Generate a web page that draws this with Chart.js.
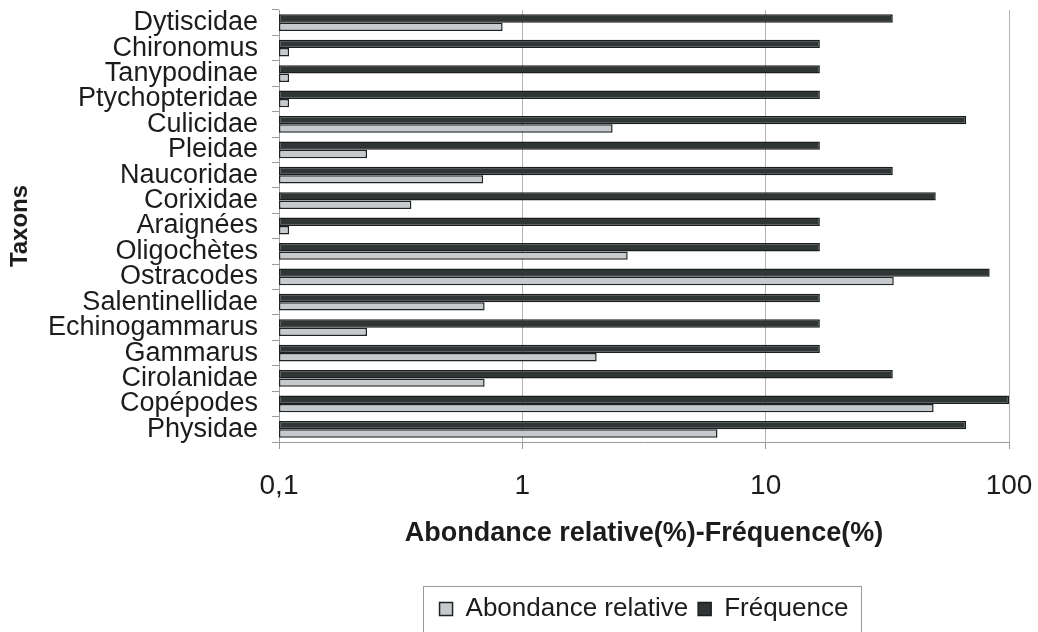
<!DOCTYPE html>
<html>
<head>
<meta charset="utf-8">
<script src="https://cdn.jsdelivr.net/npm/chart.js@4/dist/chart.umd.min.js"></script>
<style>
  html, body { margin: 0; padding: 0; background: #ffffff; }
  #wrap { width: 1038px; height: 632px; }
</style>
</head>
<body>
<div id="wrap"><canvas id="c" width="1038" height="632"></canvas></div>
<script>
// Taxa, listed top to bottom
const taxons = [
  'Dytiscidae', 'Chironomus', 'Tanypodinae', 'Ptychopteridae', 'Culicidae',
  'Pleidae', 'Naucoridae', 'Corixidae', 'Araignées', 'Oligochètes',
  'Ostracodes', 'Salentinellidae', 'Echinogammarus', 'Gammarus',
  'Cirolanidae', 'Copépodes', 'Physidae'
];

// Relative abundance (%)
const abondance = [
  0.83, 0.11, 0.11, 0.11, 2.35,
  0.23, 0.69, 0.35, 0.11, 2.71,
  33.6, 0.70, 0.23, 2.02,
  0.70, 49, 6.34
];

// Occurrence frequency (%)
const frequence = [
  33.3, 16.7, 16.7, 16.7, 66.7,
  16.7, 33.3, 50, 16.7, 16.7,
  83.3, 16.7, 16.7, 16.7,
  33.3, 100, 66.7
];

// Decade ticks of the logarithmic axis
const xTicks = [0.1, 1, 10, 100];

const FONT = "'Liberation Sans', Arial, Helvetica, sans-serif";
const INK = '#1c1c1c';

// Frame drawn around the legend entries
const legendFrame = {
  id: 'legendFrame',
  afterDraw(chart) {
    const lg = chart.legend;
    if (!lg || !lg.legendHitBoxes || !lg.legendHitBoxes.length) return;
    const hb = lg.legendHitBoxes;
    const l = Math.min(...hb.map(b => b.left)) - 17;
    const r = Math.max(...hb.map(b => b.left + b.width)) + 12;
    const t = lg.top;
    const ctx = chart.ctx;
    ctx.save();
    ctx.strokeStyle = '#9a9a9a';
    ctx.lineWidth = 1;
    ctx.strokeRect(Math.round(l) + 0.5, Math.round(t) + 0.5, Math.round(r - l), chart.height - t + 4);
    ctx.restore();
  }
};

new Chart(document.getElementById('c'), {
  type: 'bar',
  data: {
    labels: taxons,
    datasets: [
      {
        label: 'Fréquence',
        data: frequence,
        backgroundColor: '#303636',
        borderColor: '#1b1e1e',
        borderWidth: 1.5,
        borderSkipped: false
      },
      {
        label: 'Abondance relative',
        data: abondance,
        backgroundColor: '#c6cacd',
        borderColor: '#202323',
        borderWidth: 1.5,
        borderSkipped: false
      }
    ]
  },
  options: {
    indexAxis: 'y',
    responsive: false,
    animation: false,
    devicePixelRatio: 1,
    categoryPercentage: 0.66,
    barPercentage: 1.0,
    layout: { padding: { top: 10, right: 29, left: 4, bottom: 0 } },
    plugins: {
      legend: {
        position: 'bottom',
        fullSize: false,
        reverse: true,
        labels: {
          font: { family: FONT, size: 26 },
          color: INK,
          boxWidth: 13,
          boxHeight: 13,
          padding: 10
        }
      },
      tooltip: { enabled: false }
    },
    scales: {
      x: {
        type: 'logarithmic',
        min: 0.1,
        max: 100,
        afterBuildTicks(scale) {
          scale.ticks = xTicks.map(v => ({ value: v, major: true }));
        },
        afterFit(scale) {
          scale.height = 144;
          scale.paddingLeft = 0;
          scale.paddingRight = 0;
        },
        ticks: {
          autoSkip: false,
          maxRotation: 0,
          padding: 20,
          color: INK,
          font: { family: FONT, size: 28 },
          callback: v => String(v).replace('.', ',')
        },
        grid: {
          color: '#b4b4b4',
          lineWidth: 1,
          tickLength: 7,
          tickColor: '#9a9a9a'
        },
        border: { display: true, color: '#9a9a9a', width: 1 },
        title: {
          display: true,
          text: 'Abondance relative(%)-Fréquence(%)',
          color: INK,
          font: { family: FONT, size: 27, weight: 'bold' },
          padding: { top: 0, bottom: 36 }
        }
      },
      y: {
        type: 'category',
        afterFit(scale) {
          scale.width = 275;
          scale.paddingTop = 0;
          scale.paddingBottom = 0;
        },
        ticks: {
          autoSkip: false,
          padding: 14,
          color: INK,
          font: { family: FONT, size: 27 }
        },
        grid: {
          offset: true,
          drawOnChartArea: false,
          tickLength: 7,
          tickColor: '#9a9a9a'
        },
        border: { display: true, color: '#9a9a9a', width: 1 },
        title: {
          display: true,
          text: 'Taxons',
          color: INK,
          font: { family: FONT, size: 24, weight: 'bold' },
          padding: 2
        }
      }
    }
  },
  plugins: [legendFrame]
});
</script>
</body>
</html>
